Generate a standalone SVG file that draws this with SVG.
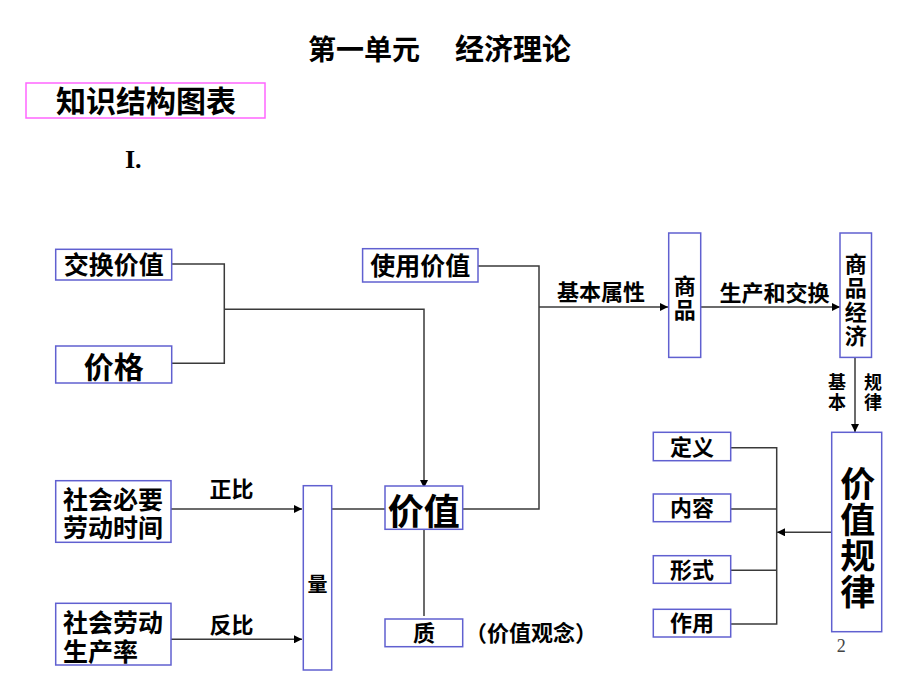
<svg xmlns="http://www.w3.org/2000/svg" width="920" height="690" viewBox="0 0 920 690">
<defs>
<marker id="arr" viewBox="0 0 10 10" refX="10" refY="5" markerWidth="9" markerHeight="8" markerUnits="userSpaceOnUse" orient="auto">
<path d="M0,0 L10,5 L0,10 z" fill="#000"/>
</marker>
<style>
.box{fill:#fff;stroke:#6060D0;stroke-width:1.5}
.t{font-family:"Liberation Sans","Noto Sans CJK SC",sans-serif;font-weight:bold;fill:#000}
.c{fill:none;stroke:#3a3a3a;stroke-width:1.5}
.a{marker-end:url(#arr)}
</style>
</defs>
<rect width="920" height="690" fill="#fff"/>

<g id="title">
<text class="t" x="308" y="60" font-size="28">第一单元</text>
<text class="t" x="455" y="60" font-size="29">经济理论</text>
</g>
<g id="header">
<rect x="26" y="83" width="239" height="35" fill="#fff" stroke="#FF66FF" stroke-width="1.5"/>
<text class="t" x="146" y="112" font-size="30" text-anchor="middle">知识结构图表</text>
</g>
<text x="125" y="168" font-family="Liberation Serif,serif" font-weight="bold" font-size="26">I.</text>

<g id="connectors">
<path class="c" d="M171.7,264 H224.3 V363.3 H171.7"/>
<path class="c a" d="M224.3,309.3 H424 V488"/>
<path class="c" d="M478,266 H539 V509 H462.7"/>
<path class="c a" d="M539,307 H668"/>
<path class="c a" d="M700.7,307 H840"/>
<path class="c a" d="M855,357.4 V432"/>
<path class="c a" d="M831.7,532.3 H777"/>
<path class="c" d="M730.7,447.7 H776.7 V624 H730.7 M730.7,509 H776.7 M730.7,570.3 H776.7"/>
<path class="c a" d="M171,509 H302"/>
<path class="c a" d="M171,639.3 H302"/>
<path class="c" d="M331.7,509 H385"/>
<path class="c" d="M424,529.3 V616"/>
</g>

<g id="jiaohuanjiazhi">
<rect class="box" x="55.7" y="249.3" width="116" height="30.7"/>
<text class="t" x="113.7" y="273.5" font-size="25" text-anchor="middle">交换价值</text>
</g>
<g id="jiage">
<rect class="box" x="55.7" y="346" width="116" height="37"/>
<text class="t" x="113.7" y="378" font-size="30" text-anchor="middle">价格</text>
</g>
<g id="shiyongjiazhi">
<rect class="box" x="362.6" y="248.7" width="115.4" height="33.3"/>
<text class="t" x="420.3" y="274.5" font-size="25" text-anchor="middle">使用价值</text>
</g>
<text class="t" x="601" y="300" font-size="22" text-anchor="middle">基本属性</text>
<g id="shangpin">
<rect class="box" x="668.7" y="233" width="32" height="124.4"/>
<text class="t" x="684.7" y="294" font-size="22" text-anchor="middle">商</text>
<text class="t" x="684.7" y="318" font-size="22" text-anchor="middle">品</text>
</g>
<text class="t" x="774.5" y="301" font-size="22" text-anchor="middle">生产和交换</text>
<g id="shangpinjingji">
<rect class="box" x="840" y="233" width="31.5" height="124.4"/>
<text class="t" x="855.7" y="272" font-size="22" text-anchor="middle">商</text>
<text class="t" x="855.7" y="296" font-size="22" text-anchor="middle">品</text>
<text class="t" x="855.7" y="320" font-size="22" text-anchor="middle">经</text>
<text class="t" x="855.7" y="344" font-size="22" text-anchor="middle">济</text>
</g>
<text class="t" x="837" y="389" font-size="18" text-anchor="middle">基</text>
<text class="t" x="837" y="409" font-size="18" text-anchor="middle">本</text>
<text class="t" x="873" y="389" font-size="18" text-anchor="middle">规</text>
<text class="t" x="873" y="409" font-size="18" text-anchor="middle">律</text>

<g id="jiazhiguilv">
<rect class="box" x="831.7" y="432.3" width="50" height="199.4"/>
<text class="t" x="857.7" y="497" font-size="35" text-anchor="middle">价</text>
<text class="t" x="857.7" y="533" font-size="35" text-anchor="middle">值</text>
<text class="t" x="857.7" y="569" font-size="35" text-anchor="middle">规</text>
<text class="t" x="857.7" y="605" font-size="35" text-anchor="middle">律</text>
</g>
<g id="dingyi">
<rect class="box" x="653.3" y="432.3" width="77.4" height="28.4"/>
<text class="t" x="692" y="454.5" font-size="22" text-anchor="middle">定义</text>
</g>
<g id="neirong">
<rect class="box" x="653.3" y="494" width="77.4" height="27.7"/>
<text class="t" x="692" y="516" font-size="22" text-anchor="middle">内容</text>
</g>
<g id="xingshi">
<rect class="box" x="653.3" y="555.7" width="77.4" height="27.6"/>
<text class="t" x="692" y="577.5" font-size="22" text-anchor="middle">形式</text>
</g>
<g id="zuoyong">
<rect class="box" x="653.3" y="609.3" width="77.4" height="27.7"/>
<text class="t" x="692" y="631" font-size="22" text-anchor="middle">作用</text>
</g>

<g id="shehuibiyao">
<rect class="box" x="55.7" y="480.7" width="115.3" height="61.6"/>
<text class="t" x="63" y="509" font-size="25">社会必要</text>
<text class="t" x="63" y="537" font-size="25">劳动时间</text>
</g>
<text class="t" x="231.5" y="497" font-size="22" text-anchor="middle">正比</text>
<g id="shehuilaodong">
<rect class="box" x="55.7" y="603.3" width="115.3" height="61.7"/>
<text class="t" x="63" y="632" font-size="25">社会劳动</text>
<text class="t" x="63" y="661" font-size="25">生产率</text>
</g>
<text class="t" x="231.5" y="633" font-size="22" text-anchor="middle">反比</text>
<g id="liang">
<rect class="box" x="303.3" y="485.7" width="28.4" height="184.3"/>
<text class="t" x="317.5" y="592" font-size="20" text-anchor="middle">量</text>
</g>
<g id="jiazhi">
<rect class="box" x="385" y="486" width="77.7" height="43.3"/>
<text class="t" x="423.8" y="524.5" font-size="36" text-anchor="middle">价值</text>
</g>
<g id="zhi">
<rect class="box" x="385" y="619" width="77.7" height="27.7"/>
<text class="t" x="424" y="641" font-size="22" text-anchor="middle">质</text>
</g>
<text class="t" x="465" y="641" font-size="22">（价值观念）</text>
<text x="836.7" y="652" font-family="Liberation Serif,serif" font-size="18" fill="#444">2</text>
</svg>
